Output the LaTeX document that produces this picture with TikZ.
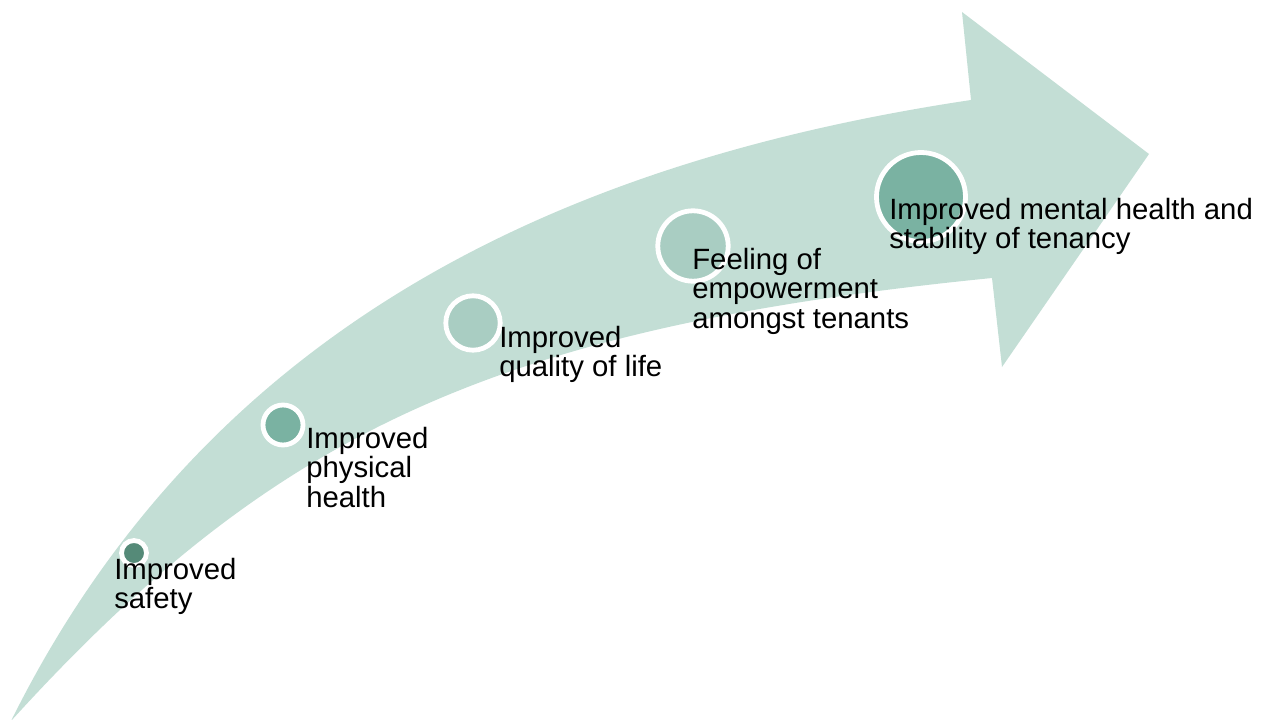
\documentclass[tikz,border=0pt]{standalone}
\usepackage{fontspec}
\setmainfont{Liberation Sans}
\definecolor{arrowfill}{HTML}{C3DED5}
\definecolor{dotdark}{HTML}{558A78}
\definecolor{dotmid}{HTML}{7AB2A2}
\definecolor{dotlight}{HTML}{A9CDC2}
\tikzset{
  dot/.style={circle, draw=white, line width=3.6pt, inner sep=0pt},
  lbl/.style={font=\fontsize{22}{22.1}\selectfont, align=left, inner sep=0pt, anchor=base west, text=black}
}
\begin{document}
\begin{tikzpicture}[x=0.75pt, y=-0.75pt]
\useasboundingbox (0,0) rectangle (1267,720);
% curved arrow
\fill[arrowfill] (11,721) .. controls (210,320) and (571,160) .. (971,100)
  -- (962,12) -- (1149,154) -- (1002,367) -- (992,278)
  .. controls (492,328) and (272,434) .. (11,721) -- cycle;
% milestones
\node[dot, fill=dotdark,  minimum size=18.75pt] (c1) at (134,553) {};
\node[dot, fill=dotmid,   minimum size=30pt]    (c2) at (283,425) {};
\node[dot, fill=dotlight, minimum size=40.8pt]  (c3) at (473,323) {};
\node[dot, fill=dotlight, minimum size=52.8pt]  (c4) at (693,246) {};
\node[dot, fill=dotmid,   minimum size=66.75pt] (c5) at (921,197) {};
% labels (anchor = baseline of the last line)
\node[lbl] (t1) at (114,608.5) {Improved\\safety};
\node[lbl] (t2) at (306,507) {Improved\\physical\\health};
\node[lbl] (t3) at (499,376.5) {Improved\\quality of life};
\node[lbl] (t4) at (692,328) {Feeling of\\empowerment\\amongst tenants};
\node[lbl] (t5) at (889,248.5) {Improved mental health and\\stability of tenancy};
\end{tikzpicture}
\end{document}
